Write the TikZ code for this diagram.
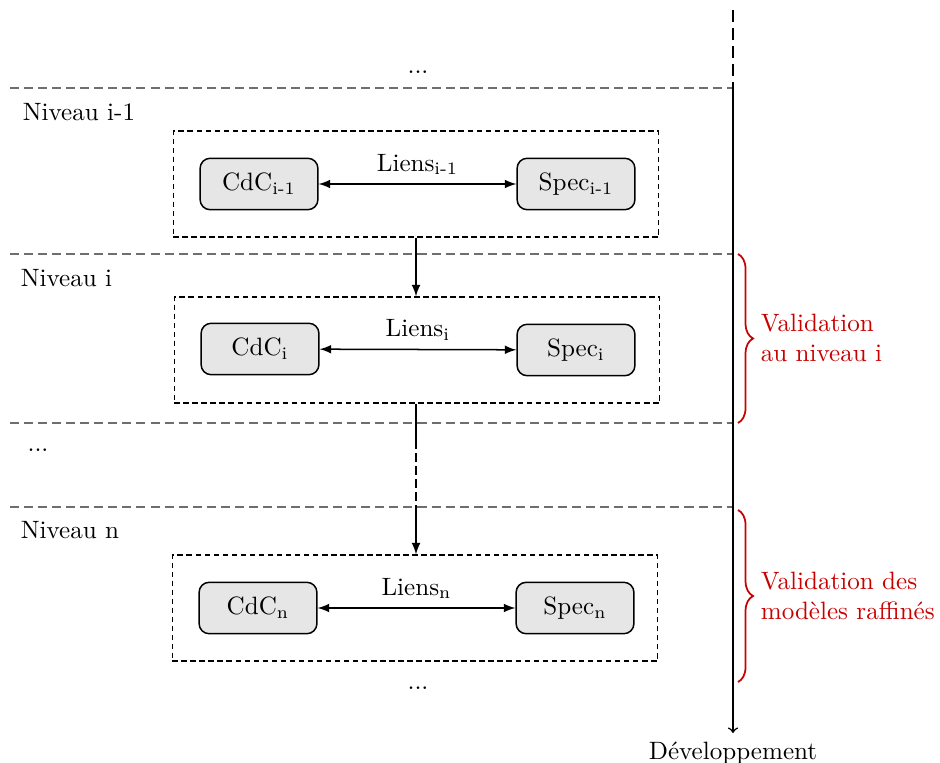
\documentclass[tikz,border=0pt]{standalone}
\usepackage{tikz}
\usetikzlibrary{arrows,shapes,positioning,decorations.pathreplacing}
\usepackage{xcolor}
\definecolor{valred}{RGB}{200,0,0}
\definecolor{sepgray}{RGB}{110,110,110}
\definecolor{modelgray}{RGB}{230,230,230}
\tikzstyle{model} = [rectangle, rounded corners=4pt, minimum width=1.65cm, minimum height=0.72cm, text centered, draw=black, fill=modelgray, line width=0.6pt]
\tikzstyle{levelbox} = [rectangle, draw=black, dash pattern=on 2.2pt off 1.4pt, line width=0.6pt, minimum width=6.8cm, minimum height=1.48cm]
\tikzstyle{link} = [<->, >=latex, line width=0.6pt]
\tikzstyle{refine} = [->, >=latex, line width=0.6pt]
\tikzstyle{separator} = [sepgray, dash pattern=on 3.6pt off 2pt, line width=0.6pt]
\tikzstyle{valbrace} = [valred, line width=0.7pt, decorate, decoration={brace, amplitude=6pt}]

\begin{document}
\begin{tikzpicture}[x=0.014cm, y=-0.014cm]
\useasboundingbox (0,0) rectangle (940,763);

% Separators
\draw[separator] (10,88) -- (733,88);
\draw[separator] (10,254) -- (733,254);
\draw[separator] (10,423) -- (733,423);
\draw[separator] (10,507) -- (733,507);

% Level names
\node (dotstop) at (418,72) {...};
\node (name1) [right] at (14,112) {Niveau i-1};
\node (name2) [right] at (12,278) {Niveau i};
\node (dotsmid) at (38,450) {...};
\node (name3) [right] at (12,530) {Niveau n};
\node (dotsbot) at (418,688) {...};

% Levels
\node (level1) [levelbox] at (416,184) {};
\node (level2) [levelbox] at (417,350) {};
\node (level3) [levelbox] at (415,608) {};

% Models
\node (cdc1) [model] at (259,184) {CdC\textsubscript{i-1}};
\node (spec1) [model] at (576,184) {Spec\textsubscript{i-1}};
\node (cdc2) [model] at (260,349) {CdC\textsubscript{i}};
\node (spec2) [model] at (576,350) {Spec\textsubscript{i}};
\node (cdc3) [model] at (258,608) {CdC\textsubscript{n}};
\node (spec3) [model] at (575,608) {Spec\textsubscript{n}};

% Links
\draw[link] (cdc1) -- node[above] {Liens\textsubscript{i-1}} (spec1);
\draw[link] (cdc2) -- node[above] {Liens\textsubscript{i}} (spec2);
\draw[link] (cdc3) -- node[above] {Liens\textsubscript{n}} (spec3);

% Refinement
\coordinate (gap1) at (416,440);
\coordinate (gap2) at (416,507);
\draw[refine] (level1.south) -- (level1.south |- level2.north);
\draw[line width=0.6pt] (level1.south |- level2.south) -- (gap1);
\draw[line width=0.6pt, dash pattern=on 3.6pt off 1.6pt] (gap1) -- (gap2);
\draw[refine] (gap2) -- (gap2 |- level3.north);

% Development axis
\coordinate (axistop) at (733,10);
\coordinate (axismid) at (733,88);
\coordinate (axisend) at (733,733);
\node (dev) [below=0pt of axisend] {Développement};
\draw[line width=0.6pt, dash pattern=on 4.8pt off 2.4pt] (axistop) -- (axismid);
\draw[->, line width=0.6pt] (axismid) -- (dev.north);

% Validation
\coordinate (brace1top) at (738,254);
\coordinate (brace1end) at (738,423);
\coordinate (brace2top) at (738,510);
\coordinate (brace2end) at (738,682);
\draw[valbrace] (brace1top) -- (brace1end);
\draw[valbrace] (brace2top) -- (brace2end);
\node (val1) [right, align=left, text=valred] at (752,338) {Validation\\au niveau i};
\node (val2) [right, align=left, text=valred] at (752,596) {Validation des\\modèles raffinés};
\end{tikzpicture}
\end{document}
